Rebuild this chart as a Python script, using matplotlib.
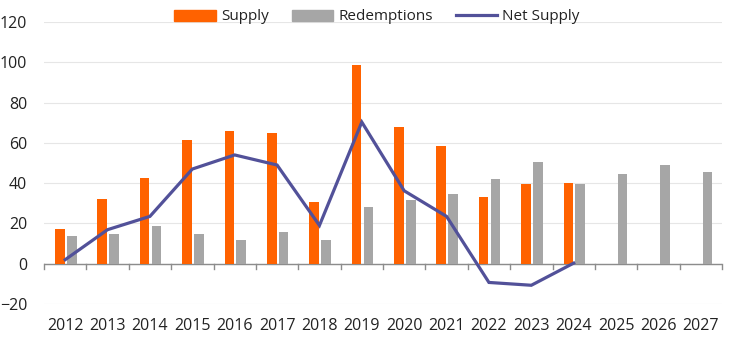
import matplotlib
matplotlib.use("Agg")
import matplotlib.pyplot as plt
import numpy as np
from matplotlib.lines import Line2D
from matplotlib.patches import Patch

years = ["2012", "2013", "2014", "2015", "2016", "2017", "2018", "2019",
         "2020", "2021", "2022", "2023", "2024", "2025", "2026", "2027"]
supply = [17, 32.2, 42.6, 61.5, 66, 65, 30.8, 98.7, 68, 58.5, 33.2, 39.8, 40]
redemptions = [13.9, 14.9, 18.8, 14.9, 12, 15.9, 11.6, 28.4, 31.7, 34.7,
               42.1, 50.6, 39.8, 44.6, 49.1, 45.6]
net_supply = [2, 16.9, 23.5, 47, 54, 49, 19, 70.3, 36.2, 23.5, -9.3, -10.7, 0.3]

ORANGE = "#FF6200"
GREY = "#A6A6A6"
PURPLE = "#525199"

plt.rcParams['font.family'] = ['Open Sans', 'DejaVu Sans']

fig = plt.figure(figsize=(7.44, 3.42), dpi=100)
ax = fig.add_axes([44/744, 1-304/342, (722-44)/744, (304-22)/342])

x = np.arange(len(years))
w = 0.225
ax.bar(x[:len(supply)] - 0.125, supply, width=w, color=ORANGE, zorder=3)
ax.bar(x + 0.155, redemptions, width=w, color=GREY, zorder=3)
ax.plot(x[:len(net_supply)], net_supply, color=PURPLE, lw=2.3, zorder=4,
        solid_joinstyle='miter')

ax.set_xlim(-0.5, len(years) - 0.5)
ax.set_ylim(-20, 120)
ax.set_yticks(range(-20, 121, 20))
ax.grid(axis='y', color="#E6E6E6", lw=0.8, zorder=0)
for s in ['left', 'right', 'top', 'bottom']:
    ax.spines[s].set_visible(False)
ax.axhline(0, color="#8C8C8C", lw=1.0, zorder=2)
# tick marks at category boundaries on zero line
for b in np.arange(-0.5, len(years), 1.0):
    ax.plot([b, b], [0, -2.4], color="#8C8C8C", lw=1.0, zorder=2, clip_on=False)

ax.set_xticks(x)
ax.set_xticklabels(years)
ax.tick_params(axis='x', length=0, pad=10, labelsize=11.5, colors="#222222")
ax.tick_params(axis='y', length=0, pad=12, labelsize=11.5, colors="#222222")

handles = [Patch(color=ORANGE), Patch(color=GREY),
           Line2D([0], [0], color=PURPLE, lw=2.3)]
fig.legend(handles, ["Supply", "Redemptions", "Net Supply"],
           loc='center', bbox_to_anchor=(377/744, 1-17/342), ncol=3,
           frameon=False, fontsize=11, handlelength=2.7, handleheight=0.7,
           columnspacing=1.5, handletextpad=0.35, labelcolor="#222222")

fig.savefig("out.png", dpi=100)
